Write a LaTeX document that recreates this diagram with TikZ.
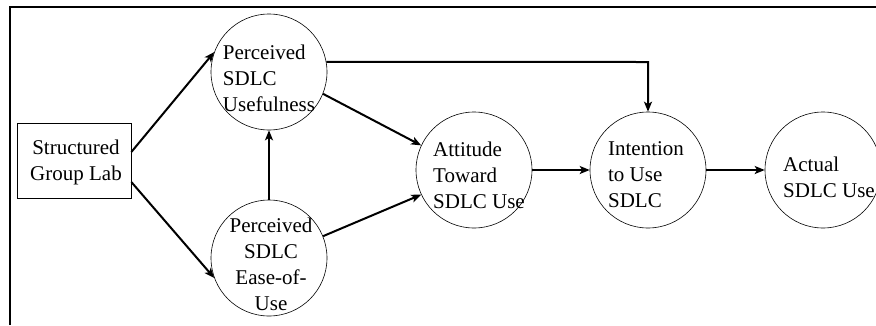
\documentclass[tikz,border=0pt]{standalone}
\usepackage{fontspec}
\setmainfont{Liberation Serif}
\usetikzlibrary{arrows.meta}
\begin{document}
\begin{tikzpicture}[x=1pt,y=-1pt,
  circ/.style={draw,circle,line width=0.6pt,minimum size=116pt,inner sep=0pt},
  lbl/.style={font=\fontsize{21}{26}\selectfont,inner sep=0pt},
  conn/.style={line width=2pt,-{Stealth[length=10pt,width=8pt,inset=2.5pt]}}]
\useasboundingbox (0,0) rectangle (876,325);
\draw[line width=1.2pt] (10,325) -- (10,7) -- (876,7);
\node[draw,line width=0.7pt,minimum width=114pt,minimum height=75pt,inner sep=0pt] (sgl) at (74,160.5) {};
\node[lbl,align=center] (sglt) at (76,162) {Structured\\Group Lab};
\node[circ] (pu) at (269,72) {};
\node[lbl,align=left] (put) at (269,78) {Perceived\\SDLC\\Usefulness};
\node[circ] (peou) at (269,258) {};
\node[lbl,align=center] (peout) at (271,264) {Perceived\\SDLC\\Ease-of-\\Use};
\node[circ] (att) at (474,170) {};
\node[lbl,align=left] (attt) at (479,175) {Attitude\\Toward\\SDLC Use};
\node[circ] (int) at (648,170) {};
\node[lbl,align=left] (intt) at (646,175) {Intention\\to Use\\SDLC};
\node[circ] (act) at (823,170) {};
\node[lbl,align=left] (actt) at (829,177) {Actual\\SDLC Use};
\coordinate (c1) at (648,62);
\draw[conn] (sgl.east|-0,152) -- (pu.180-20);
\draw[conn] (sgl.east|-0,182) -- (peou.180+20);
\draw[conn] (peou.north) -- (pu.south);
\draw[conn] (pu.-22) -- (att.155);
\draw[conn] (peou.22) -- (att.205);
\draw[conn] (att.east) -- (int.west);
\draw[conn] (int.east) -- (act.west);
\draw[conn] (pu.10) -- (c1) -- (int.north);
\end{tikzpicture}
\end{document}
